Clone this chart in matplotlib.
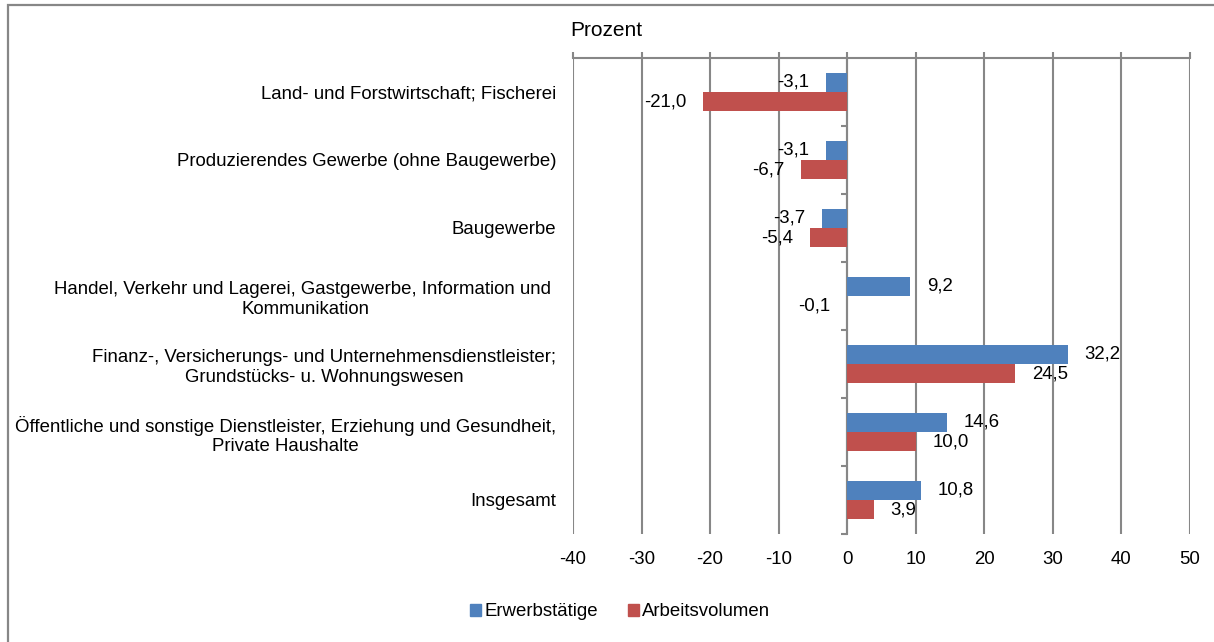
import numpy as np
import matplotlib
matplotlib.use('Agg')
import matplotlib.pyplot as plt
from matplotlib.patches import Rectangle, Patch
from matplotlib.transforms import offset_copy

plt.rcParams['font.family'] = ['Liberation Sans', 'DejaVu Sans']

# data
categories = ['Land- und Forstwirtschaft; Fischerei',
              'Produzierendes Gewerbe (ohne Baugewerbe)',
              'Baugewerbe',
              'Handel, Verkehr und Lagerei, Gastgewerbe, Information und \nKommunikation',
              'Finanz-, Versicherungs- und Unternehmensdienstleister;\nGrundstücks- u. Wohnungswesen',
              'Öffentliche und sonstige Dienstleister, Erziehung und Gesundheit,\nPrivate Haushalte',
              'Insgesamt']
erwerbstaetige = [-3.1, -3.1, -3.7, 9.2, 32.2, 14.6, 10.8]
arbeitsvolumen = [-21.0, -6.7, -5.4, -0.1, 24.5, 10.0, 3.9]
series_names = ['Erwerbstätige', 'Arbeitsvolumen']
x_ticks = [-40, -30, -20, -10, 0, 10, 20, 30, 40, 50]

blue = '#4F81BD'
red = '#C0504D'
grey = '#878787'
fs = 13.4

fig = plt.figure(figsize=(12.14, 6.42), dpi=100)
ax = fig.add_axes((573/1214, 1-534/642, 617/1214, 476/642))

y = np.arange(len(categories))
h = 0.28
ax.barh(y - h/2, erwerbstaetige, height=h, color=blue, label=series_names[0])
ax.barh(y + h/2, arbeitsvolumen, height=h, color=red, label=series_names[1])

ax.set_xlim(-40, 50)
ax.set_ylim(len(categories) - 0.5, -0.5)

# data labels, outside end
for vals, off in [(erwerbstaetige, -h/2), (arbeitsvolumen, h/2)]:
    for i, v in enumerate(vals):
        dx = 12 if v >= 0 else -12
        tr = offset_copy(ax.transData, fig=fig, x=dx, y=0, units='points')
        ax.text(v, i + off, ('%.1f' % v).replace('.', ','), transform=tr,
                ha='left' if v >= 0 else 'right', va='center', fontsize=fs)

# x axis: spine at top with ticks, labels at bottom
ax.set_xticks(x_ticks)
ax.set_xticklabels([str(t) for t in x_ticks])
ax.tick_params(axis='x', top=True, bottom=False, labeltop=False, labelbottom=True,
               direction='out', length=4, width=1.5, color=grey, pad=8.5, labelsize=fs)
ax.grid(axis='x', color=grey, linewidth=1.5)
ax.set_axisbelow(True)
for s in ['left', 'right', 'bottom']:
    ax.spines[s].set_visible(False)
ax.spines['top'].set_color(grey)
ax.spines['top'].set_linewidth(1.5)

# category labels
ax.set_yticks(y)
ax.set_yticklabels(categories, multialignment='center')
ax.tick_params(axis='y', left=False, length=0, pad=12, labelsize=fs)

# vertical axis line at zero with small ticks between categories
sec = ax.secondary_yaxis((0 - ax.get_xlim()[0]) / (ax.get_xlim()[1] - ax.get_xlim()[0]))
sec.set_yticks(np.arange(0.5, len(categories) + 0.5, 1.0))
sec.set_yticklabels([])
sec.tick_params(direction='out', length=4, width=1.5, color=grey)
sec.spines['left'].set_color(grey)
sec.spines['left'].set_linewidth(1.5)

fig.text(570/1214, 1-30/642, 'Prozent', fontsize=15, va='center', ha='left')

handles = [Patch(color=blue), Patch(color=red)]
fig.legend(handles, series_names, loc='center', bbox_to_anchor=(620/1214, 1-612/642),
           ncol=2, frameon=False, fontsize=fs, handlelength=0.6, handleheight=0.6,
           handletextpad=0.15, columnspacing=1.6)

# outer frame
fig.patches.append(Rectangle((8/1214, -0.1), 1.2, 1.1 - 5/642, transform=fig.transFigure,
                             fill=False, edgecolor=grey, linewidth=1.6))

fig.savefig('out.png', dpi=100)
